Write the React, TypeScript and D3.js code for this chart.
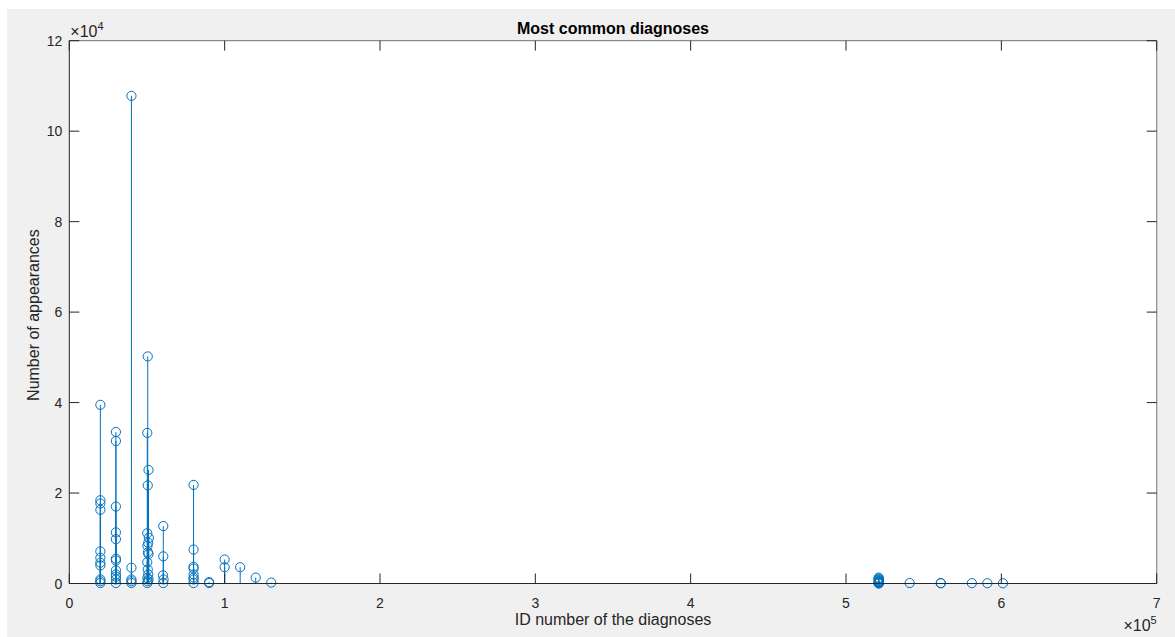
import React from "react";
import * as d3 from "d3";

// ---- data ----
const diagnosisIds: number[] = [
  // ~2e4
  20000, 20000, 20000, 20000, 20000, 20000, 20000, 20000, 20000, 20000, 20000,
  // ~3e4
  30000, 30000, 30000, 30000, 30000, 30000, 30000, 30000, 30000, 30000, 30000, 30000,
  // ~4e4
  40000, 40000, 40000, 40000, 40000,
  // ~5e4
  50500, 50200, 51000, 50500, 50200, 51200, 50800, 50300, 50600, 51000, 50200, 50500, 50800, 50300, 51000, 50500, 50200,
  // ~6e4
  60500, 60500, 60300, 60700, 60500,
  // ~8e4
  80000, 80000, 80000, 80000, 80000, 80000, 80000, 80000,
  // ~9e4
  90000, 90000,
  // 1e5 .. 1.3e5
  100000, 100000, 110000, 120000, 130000,
  // ~5.21e5 cluster
  521000, 521000, 521200, 521000, 521200, 521000, 521300, 521000, 521100, 521000, 521200, 521000,
  // tail
  541000, 561000, 561000, 581000, 591000, 601000,
];

const appearances: number[] = [
  39500, 18400, 17700, 16300, 7100, 5700, 4600, 4000, 900, 500, 100,
  33500, 31500, 17000, 11300, 9800, 5500, 5100, 2900, 2000, 1500, 900, 100,
  107800, 3500, 900, 500, 100,
  50200, 33300, 25100, 21700, 11100, 10100, 9000, 8300, 6900, 6500, 4700, 3100, 2000, 1200, 900, 500, 100,
  12700, 6000, 1800, 900, 100,
  21800, 7500, 3700, 3300, 2000, 1300, 900, 100,
  300, 100,
  5300, 3600, 3600, 1300, 200,
  1300, 1100, 900, 800, 600, 500, 400, 300, 200, 100, 50, 0,
  100, 100, 50, 80, 60, 50,
];

const xTicks: number[] = [0, 1, 2, 3, 4, 5, 6, 7]; // ×10^5
const yTicks: number[] = [0, 2, 4, 6, 8, 10, 12]; // ×10^4

const W = 1175;
const H = 637;
const left = 69.3;
const right = 1156.7;
const top = 40.7;
const bottom = 583.5;

const FONT = "'Liberation Sans', Arial, Helvetica, sans-serif";
const AXIS_COLOR = "#262626";
const BLUE = "#0072BD";

export default function App() {
  const x = d3.scaleLinear().domain([0, 7e5]).range([left, right]);
  const y = d3.scaleLinear().domain([0, 12e4]).range([bottom, top]);
  const tickLen = 10;

  return (
    <div style={{ position: "absolute", left: 0, top: 0, width: W, height: H }}>
      <svg width={W} height={H} style={{ display: "block" }} fontFamily={FONT}>
        <rect x={0} y={0} width={W} height={H} fill="#ffffff" />
        <rect x={7} y={9} width={W - 7} height={H - 9} fill="#f0f0f0" />
        <rect x={left} y={top} width={right - left} height={bottom - top} fill="#ffffff" />

        {/* stems */}
        <g>
          {diagnosisIds.map((id, i) => (
            <line
              key={"s" + i}
              x1={x(id)}
              x2={x(id)}
              y1={y(0)}
              y2={y(appearances[i])}
              stroke={BLUE}
              strokeWidth={1}
            />
          ))}
        </g>
        {/* baseline */}
        <line x1={left} x2={right} y1={y(0)} y2={y(0)} stroke={AXIS_COLOR} strokeWidth={1} />
        {/* markers */}
        <g>
          {diagnosisIds.map((id, i) => (
            <circle
              key={"c" + i}
              cx={x(id)}
              cy={y(appearances[i])}
              r={4.6}
              fill="none"
              stroke={BLUE}
              strokeWidth={1}
            />
          ))}
        </g>

        {/* axes box */}
        <line x1={left} x2={right} y1={top} y2={top} stroke="#8a8a8a" strokeWidth={1.2} />
        <line x1={right} x2={right} y1={top} y2={bottom} stroke="#8a8a8a" strokeWidth={1.2} />
        <line x1={left} x2={left} y1={top} y2={bottom} stroke={AXIS_COLOR} strokeWidth={1} />
        <line x1={left} x2={right} y1={bottom} y2={bottom} stroke={AXIS_COLOR} strokeWidth={1} />

        {/* x ticks */}
        {xTicks.map((t) => (
          <g key={"xt" + t}>
            <line x1={x(t * 1e5)} x2={x(t * 1e5)} y1={bottom} y2={bottom - tickLen} stroke={AXIS_COLOR} strokeWidth={1} />
            <line x1={x(t * 1e5)} x2={x(t * 1e5)} y1={top} y2={top + tickLen} stroke={AXIS_COLOR} strokeWidth={1} />
            <text x={x(t * 1e5)} y={bottom + 24} textAnchor="middle" fontSize={14} fill={AXIS_COLOR}>
              {t}
            </text>
          </g>
        ))}
        {/* y ticks */}
        {yTicks.map((t) => (
          <g key={"yt" + t}>
            <line x1={left} x2={left + tickLen} y1={y(t * 1e4)} y2={y(t * 1e4)} stroke={AXIS_COLOR} strokeWidth={1} />
            <line x1={right} x2={right - tickLen} y1={y(t * 1e4)} y2={y(t * 1e4)} stroke={AXIS_COLOR} strokeWidth={1} />
            <text x={left - 7} y={y(t * 1e4) + 5} textAnchor="end" fontSize={14} fill={AXIS_COLOR}>
              {t}
            </text>
          </g>
        ))}

        {/* exponent labels */}
        <text x={left + 1} y={37} fontSize={16} fill={AXIS_COLOR}>
          ×10<tspan dy={-7} fontSize={11}>4</tspan>
        </text>
        <text x={right} y={631} textAnchor="end" fontSize={16} fill={AXIS_COLOR}>
          ×10<tspan dy={-7} fontSize={11}>5</tspan>
        </text>

        {/* title */}
        <text x={(left + right) / 2} y={34} textAnchor="middle" fontSize={16} fontWeight="bold" fill="#000">
          Most common diagnoses
        </text>
        {/* axis labels */}
        <text x={(left + right) / 2} y={625} textAnchor="middle" fontSize={16} fill={AXIS_COLOR}>
          ID number of the diagnoses
        </text>
        <text
          transform={`translate(39, ${(top + bottom) / 2 + 3}) rotate(-90)`}
          textAnchor="middle"
          fontSize={16}
          fill={AXIS_COLOR}
        >
          Number of appearances
        </text>
      </svg>
    </div>
  );
}
